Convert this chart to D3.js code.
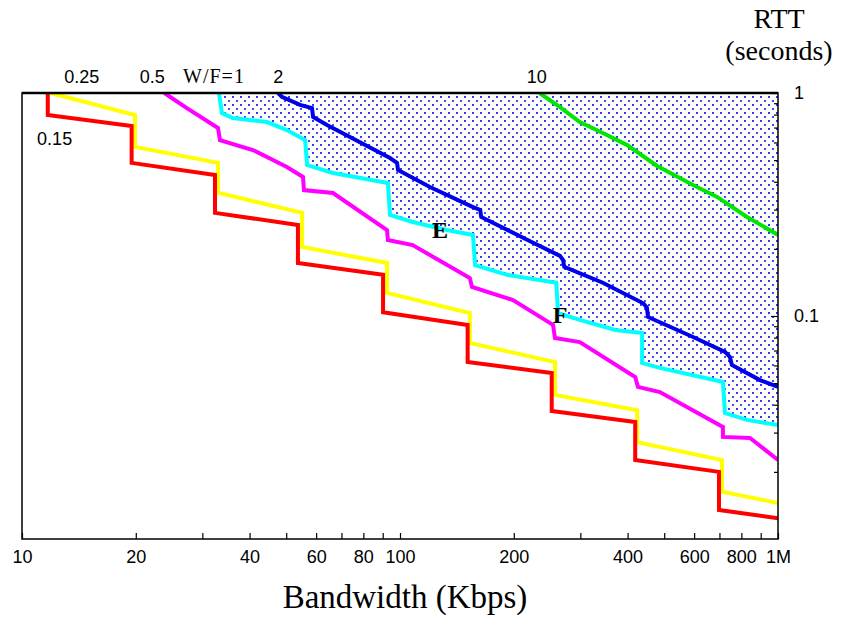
<!DOCTYPE html>
<html>
<head>
<meta charset="utf-8">
<script src="https://cdn.jsdelivr.net/npm/d3@7"></script>
<style>
  body { margin: 0; background: #fff; }
  svg { display: block; }
</style>
</head>
<body>
<svg id="chart" width="847" height="618"></svg>
<script>
// Bandwidth (Kbps) / RTT (seconds) for each W/F curve
const redBw = [11.7, 11.7, 19.5, 19.5, 32.4, 32.4, 53.7, 53.7, 90.2, 90.2, 151, 151, 252, 252, 419, 419, 698, 698, 1000];
const redRtt = [1, 0.797, 0.711, 0.486, 0.429, 0.29, 0.256, 0.173, 0.153, 0.104, 0.0912, 0.0622, 0.0555, 0.0375, 0.0335, 0.0226, 0.02, 0.0135, 0.0124];

const yellowBw = [11.9, 19.9, 19.9, 33.0, 33.0, 55.1, 55.1, 92.4, 92.4, 153, 153, 257, 257, 424, 424, 711, 711, 1000];
const yellowRtt = [1, 0.797, 0.573, 0.486, 0.357, 0.29, 0.204, 0.173, 0.127, 0.103, 0.0757, 0.0622, 0.0443, 0.0378, 0.0272, 0.0226, 0.0163, 0.0145];

const magentaBw = [23.8, 27.3, 33.0, 33.4, 40.8, 50.2, 55.4, 55.7, 66.5, 92.4, 92.9, 108, 153, 155, 199, 254, 257, 299, 419, 426, 487, 715, 715, 843, 1000];
const magentaRtt = [1, 0.856, 0.697, 0.615, 0.555, 0.466, 0.42, 0.367, 0.356, 0.243, 0.219, 0.208, 0.148, 0.135, 0.118, 0.0912, 0.0797, 0.0764, 0.0533, 0.0481, 0.0456, 0.0318, 0.0287, 0.0284, 0.0226];

const cyanBw = [33.2, 33.8, 36.1, 44.5, 50.2, 56.1, 56.8, 66.5, 92.9, 94.1, 108, 133, 156, 158, 192, 259, 262, 299, 371, 437, 437, 487, 715, 724, 828, 1000];
const cyanRtt = [1, 0.813, 0.772, 0.741, 0.682, 0.615, 0.475, 0.438, 0.395, 0.284, 0.264, 0.243, 0.231, 0.169, 0.153, 0.141, 0.103, 0.096, 0.0866, 0.0839, 0.0615, 0.0585, 0.0506, 0.0367, 0.0342, 0.0324];

const blueBw = [47.6, 48.7, 54.4, 58.5, 58.9, 64.1, 94.1, 98.2, 98.8, 120, 156, 163, 164, 225, 265, 270, 272, 344, 440, 450, 453, 596, 724, 746, 755, 896, 1000];
const blueRtt = [1, 0.96, 0.884, 0.856, 0.78, 0.719, 0.511, 0.486, 0.452, 0.379, 0.308, 0.299, 0.278, 0.213, 0.186, 0.178, 0.166, 0.141, 0.114, 0.109, 0.099, 0.0805, 0.069, 0.0655, 0.0603, 0.0516, 0.0481];

const greenBw = [234, 265, 299, 344, 399, 479, 596, 690, 828, 1000];
const greenRtt = [1, 0.865, 0.741, 0.662, 0.584, 0.471, 0.387, 0.342, 0.278, 0.231];

// Axis ticks and labels
const bwTicks = [10, 20, 30, 40, 50, 60, 70, 80, 90, 100, 200, 300, 400, 500, 600, 700, 800, 900, 1000];
const bwLabelValues = [10, 20, 40, 60, 80, 100, 200, 400, 600, 800, 1000];
const bwLabelText = ["10", "20", "40", "60", "80", "100", "200", "400", "600", "800", "1M"];
const rttTicks = [0.02, 0.03, 0.04, 0.05, 0.06, 0.07, 0.08, 0.09, 0.1, 0.2, 0.3, 0.4, 0.5, 0.6, 0.7, 0.8, 0.9, 1];
const rttLabelValues = [0.1, 1];
const rttLabelText = ["0.1", "1"];

// Curve labels along the top edge
const topLabels = ["0.25", "0.5", "W/F=1", "2", "10"];
const topLabelBw = [14.4, 22.1, 32.2, 47.6, 230];

const svg = d3.select("#chart");
const plotLeft = 22, plotRight = 778, plotTop = 93, plotBottom = 539;

const x = d3.scaleLog().domain([10, 1000]).range([plotLeft, plotRight]);
const y = d3.scaleLog().domain([0.01, 1]).range([plotBottom, plotTop]);

const sans = "'Liberation Sans', Arial, sans-serif";
const serif = "'Liberation Serif', 'Times New Roman', serif";

const series = [
  { bw: greenBw, rtt: greenRtt, color: "#00e600" },
  { bw: blueBw, rtt: blueRtt, color: "#0000ee" },
  { bw: cyanBw, rtt: cyanRtt, color: "#00ffff" },
  { bw: magentaBw, rtt: magentaRtt, color: "#ff00ff" },
  { bw: yellowBw, rtt: yellowRtt, color: "#ffff00" },
  { bw: redBw, rtt: redRtt, color: "#ff0000" },
].map((s) => ({ color: s.color, points: s.bw.map((b, i) => [b, s.rtt[i]]) }));

const defs = svg.append("defs");
defs.append("clipPath").attr("id", "plot-clip")
  .append("rect")
  .attr("x", plotLeft).attr("y", plotTop)
  .attr("width", plotRight - plotLeft).attr("height", plotBottom - plotTop);

// dotted fill for the region above W/F=1
const pattern = defs.append("pattern")
  .attr("id", "dots")
  .attr("patternUnits", "userSpaceOnUse")
  .attr("width", 8).attr("height", 8);
pattern.append("circle").attr("cx", 1).attr("cy", 1).attr("r", 1.1).attr("fill", "#2020f0");
pattern.append("circle").attr("cx", 5).attr("cy", 5).attr("r", 1.1).attr("fill", "#2020f0");

const plot = svg.append("g").attr("clip-path", "url(#plot-clip)");

const area = d3.area()
  .x((d) => x(d[0]))
  .y0(y(1))
  .y1((d) => y(d[1]));

plot.append("path")
  .datum(series[2].points)
  .attr("d", area)
  .attr("fill", "url(#dots)");

const line = d3.line()
  .x((d) => x(d[0]))
  .y((d) => y(d[1]));

plot.selectAll("path.curve")
  .data(series)
  .enter()
  .append("path")
  .attr("class", "curve")
  .attr("d", (d) => line(d.points))
  .attr("fill", "none")
  .attr("stroke", (d) => d.color)
  .attr("stroke-width", 4)
  .attr("stroke-linejoin", "miter");

// bottom axis, ticks pointing inward
const xAxis = d3.axisBottom(x)
  .tickValues(bwTicks)
  .tickSize(-6)
  .tickPadding(11)
  .tickFormat((d) => {
    const i = bwLabelValues.indexOf(d);
    return i >= 0 ? bwLabelText[i] : "";
  });

svg.append("g")
  .attr("transform", `translate(0,${plotBottom})`)
  .call(xAxis)
  .call((g) => g.select(".domain").remove())
  .call((g) => g.selectAll("line").attr("stroke", "#000").attr("stroke-width", 1.2))
  .call((g) => g.selectAll("text")
    .attr("font-family", sans)
    .attr("font-size", 18)
    .attr("fill", "#000"));

// right axis
const yAxis = d3.axisRight(y)
  .tickValues(rttTicks)
  .tickSize(-4)
  .tickPadding(16)
  .tickFormat((d) => {
    const i = rttLabelValues.indexOf(d);
    return i >= 0 ? rttLabelText[i] : "";
  });

svg.append("g")
  .attr("transform", `translate(${plotRight},0)`)
  .call(yAxis)
  .call((g) => g.select(".domain").remove())
  .call((g) => g.selectAll("line")
    .attr("x2", (d) => (rttLabelValues.includes(d) ? -7 : -4))
    .attr("stroke", "#000").attr("stroke-width", 1.2))
  .call((g) => g.selectAll("text")
    .attr("font-family", sans)
    .attr("font-size", 18)
    .attr("fill", "#000"));

// frame
svg.append("rect")
  .attr("x", plotLeft).attr("y", plotTop)
  .attr("width", plotRight - plotLeft).attr("height", plotBottom - plotTop)
  .attr("fill", "none")
  .attr("stroke", "#000")
  .attr("stroke-width", 1.5);
svg.append("line")
  .attr("x1", plotLeft).attr("x2", plotRight)
  .attr("y1", plotTop).attr("y2", plotTop)
  .attr("stroke", "#000")
  .attr("stroke-width", 2.5);

// curve labels
svg.selectAll("text.top-label")
  .data(topLabels)
  .enter()
  .append("text")
  .attr("class", "top-label")
  .attr("x", (d, i) => x(topLabelBw[i]))
  .attr("y", 83)
  .attr("text-anchor", "middle")
  .attr("font-family", (d) => (d.startsWith("W") ? serif : sans))
  .attr("font-size", (d) => (d.startsWith("W") ? 20 : 18))
  .attr("letter-spacing", (d) => (d.startsWith("W") ? 1 : 0))
  .text((d) => d);

svg.append("text")
  .attr("x", x(12.2))
  .attr("y", 145)
  .attr("text-anchor", "middle")
  .attr("font-family", sans)
  .attr("font-size", 18)
  .text("0.15");

// points E and F
svg.append("text")
  .attr("x", x(127.6)).attr("y", y(0.243))
  .attr("dy", "0.35em")
  .attr("text-anchor", "middle")
  .attr("font-family", serif)
  .attr("font-weight", "bold")
  .attr("font-size", 24)
  .text("E");

svg.append("text")
  .attr("x", x(265)).attr("y", y(0.101))
  .attr("dy", "0.35em")
  .attr("text-anchor", "middle")
  .attr("font-family", serif)
  .attr("font-weight", "bold")
  .attr("font-size", 24)
  .text("F");

// axis titles
svg.append("text")
  .attr("x", 405).attr("y", 608)
  .attr("text-anchor", "middle")
  .attr("font-family", serif)
  .attr("font-size", 33)
  .text("Bandwidth (Kbps)");

svg.append("text")
  .attr("x", 779).attr("y", 28)
  .attr("text-anchor", "middle")
  .attr("font-family", serif)
  .attr("font-size", 28)
  .text("RTT");

svg.append("text")
  .attr("x", 779).attr("y", 60)
  .attr("text-anchor", "middle")
  .attr("font-family", serif)
  .attr("font-size", 28)
  .text("(seconds)");
</script>
</body>
</html>
